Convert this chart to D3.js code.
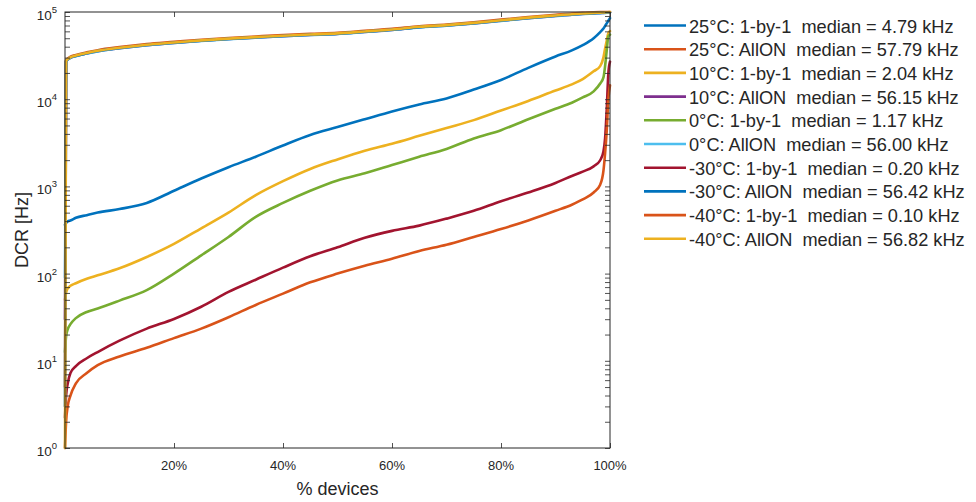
<!DOCTYPE html>
<html>
<head>
<meta charset="utf-8">
<script src="https://cdn.jsdelivr.net/npm/d3@7"></script>
<style>
  body { margin: 0; background: #fff; }
  svg text { font-family: "Liberation Sans", Arial, Helvetica, sans-serif; fill: #262626; }
</style>
</head>
<body>
<svg id="chart" width="976" height="502"></svg>
<script>
// Share of devices (%), sorted by dark count rate
const pct = [0, 0.2, 0.5, 1, 2, 4, 6, 10, 15, 20, 25, 30, 35, 40, 45, 50, 55, 60, 65, 70,
             75, 80, 85, 90, 93, 95, 97, 98.2, 98.8, 99.1, 99.4, 99.7, 100];

// DCR in Hz for each temperature / bias mode
const dcr25OneByOne = [363, 380, 398, 407, 437, 468, 501, 550, 646, 891, 1230, 1660, 2190, 2950, 3890, 4790,
  5890, 7240, 8710, 10200, 12900, 16600, 22900, 30900, 36300, 41700, 50100, 58900, 64600, 69200, 74100, 79400, 85100];
const dcr25AllOn = [5, 28010, 29330, 30710, 32160, 34450, 36500, 39560, 42890, 45430, 48120, 50390, 52400, 54370,
  56150, 57790, 60860, 64170, 68760, 71990, 76260, 81720, 87560, 92750, 96010, 97800, 99380, 99800, 99900, 99950, 99970, 99990, 100000];
const dcr10OneByOne = [50.1, 60.3, 67.6, 72.4, 77.6, 87.1, 95.5, 115, 155, 219, 331, 501, 794, 1148, 1585, 2040,
  2570, 3090, 3800, 4677, 5754, 7413, 9550, 12589, 14791, 16982, 20893, 23988, 30200, 38019, 46774, 57544, 60256];
const dcr10AllOn = [30, 27210, 28490, 29840, 31240, 33470, 35460, 38430, 41660, 44130, 46750, 48960, 50900, 52820,
  54550, 56150, 59120, 62340, 66800, 69940, 74090, 79390, 85070, 90110, 93280, 95010, 96550, 97240, 97670, 97890, 98120, 98350, 98570];
const dcr0OneByOne = [12.6, 19.1, 22.9, 26.3, 30.9, 36.3, 39.8, 49.0, 64.6, 100, 162, 263, 447, 646, 891, 1170,
  1413, 1758, 2188, 2692, 3548, 4416, 5888, 7762, 9120, 10471, 12303, 15136, 17783, 23988, 36308, 52481, 54954];
const dcr0AllOn = [90, 27140, 28420, 29770, 31160, 33390, 35370, 38340, 41560, 44030, 46640, 48840, 50780, 52690,
  54420, 56000, 58980, 62190, 66640, 69770, 73910, 79190, 84860, 89890, 93050, 94780, 96310, 97000, 97440, 97650, 97880, 98110, 98330];
const dcrM30OneByOne = [2.24, 3.98, 5.50, 7.24, 8.71, 10.7, 12.6, 17.0, 23.4, 30.2, 41.7, 61.7, 85.1, 117, 158, 200,
  257, 309, 355, 427, 525, 676, 851, 1096, 1318, 1479, 1698, 1995, 2512, 3548, 7586, 19953, 26915];
const dcrM30AllOn = [3, 27350, 28640, 29990, 31400, 33640, 35640, 38630, 41880, 44360, 46990, 49200, 51160, 53090,
  54820, 56420, 59420, 62660, 67140, 70290, 74470, 79790, 85500, 90560, 93750, 95490, 97040, 97730, 98170, 98390, 98620, 98840, 99070];
const dcrM40OneByOne = [1.0, 2.0, 3.02, 3.98, 5.50, 7.24, 8.91, 11.2, 14.1, 18.2, 23.4, 31.6, 43.7, 58.9, 79.4, 100,
  123, 148, 182, 214, 263, 324, 407, 525, 617, 708, 851, 1047, 1514, 2399, 4365, 10000, 14454];
const dcrM40AllOn = [1, 27540, 28840, 30200, 31620, 33880, 35890, 38900, 42170, 44670, 47320, 49550, 51520, 53460,
  55210, 56820, 59840, 63100, 67610, 70790, 74990, 80350, 86100, 91200, 94410, 96160, 97720, 98420, 98860, 99080, 99310, 99540, 99770];

const legendLabels = [
  "25°C: 1-by-1  median = 4.79 kHz",
  "25°C: AllON  median = 57.79 kHz",
  "10°C: 1-by-1  median = 2.04 kHz",
  "10°C: AllON  median = 56.15 kHz",
  "0°C: 1-by-1  median = 1.17 kHz",
  "0°C: AllON  median = 56.00 kHz",
  "-30°C: 1-by-1  median = 0.20 kHz",
  "-30°C: AllON  median = 56.42 kHz",
  "-40°C: 1-by-1  median = 0.10 kHz",
  "-40°C: AllON  median = 56.82 kHz"
];
const seriesValues = [dcr25OneByOne, dcr25AllOn, dcr10OneByOne, dcr10AllOn, dcr0OneByOne,
                      dcr0AllOn, dcrM30OneByOne, dcrM30AllOn, dcrM40OneByOne, dcrM40AllOn];
const colors = ["#0072BD", "#D95319", "#EDB120", "#7E2F8E", "#77AC30",
                "#4DBEEE", "#A2142F", "#0072BD", "#D95319", "#EDB120"];

const xTicks = [20, 40, 60, 80, 100];
const yMajor = [1, 10, 100, 1000, 10000, 100000];

const svg = d3.select("#chart");
const plotLeft = 65, plotRight = 610, plotTop = 12, plotBottom = 448;
const axisColor = "#262626";

const x = d3.scaleLinear().domain([0, 100]).range([plotLeft, plotRight]);
const y = d3.scaleLog().domain([1, 1e5]).range([plotBottom, plotTop]);

// curves
const line = d3.line()
  .x(d => x(d[0]))
  .y(d => y(d[1]))
  .curve(d3.curveMonotoneX);

const plot = svg.append("g");
seriesValues.forEach((vals, i) => {
  plot.append("path")
    .datum(pct.map((p, j) => [p, vals[j]]))
    .attr("d", line)
    .attr("fill", "none")
    .attr("stroke", colors[i])
    .attr("stroke-width", 2.6)
    .attr("stroke-linejoin", "round")
    .attr("stroke-linecap", "round");
});

// axes: ticks point inward on all four sides
const yTickVals = y.ticks();
const tick = 5;
function styleAxis(g) {
  g.select(".domain").remove();
  g.selectAll(".tick line").attr("stroke", axisColor).attr("stroke-width", 0.8);
  g.selectAll(".tick text").remove();
}
svg.append("g").attr("transform", `translate(0,${plotBottom})`)
  .call(d3.axisBottom(x).tickValues(xTicks).tickSize(-tick)).call(styleAxis);
svg.append("g").attr("transform", `translate(0,${plotTop})`)
  .call(d3.axisTop(x).tickValues(xTicks).tickSize(-tick)).call(styleAxis);
svg.append("g").attr("transform", `translate(${plotLeft},0)`)
  .call(d3.axisLeft(y).tickValues(yTickVals).tickSize(-tick)).call(styleAxis);
svg.append("g").attr("transform", `translate(${plotRight},0)`)
  .call(d3.axisRight(y).tickValues(yTickVals).tickSize(-tick)).call(styleAxis);

svg.append("rect")
  .attr("x", plotLeft).attr("y", plotTop)
  .attr("width", plotRight - plotLeft).attr("height", plotBottom - plotTop)
  .attr("fill", "none").attr("stroke", axisColor).attr("stroke-width", 1);

// x tick labels
svg.append("g").selectAll("text").data(xTicks).join("text")
  .attr("x", d => x(d)).attr("y", plotBottom + 22)
  .attr("text-anchor", "middle").attr("font-size", 13)
  .text(d => d + "%");

// y tick labels as powers of ten
const yl = svg.append("g").selectAll("text").data(yMajor).join("text")
  .attr("x", 57).attr("y", d => y(d) + 8)
  .attr("text-anchor", "end").attr("font-size", 13.5);
yl.append("tspan").text("10");
yl.append("tspan").attr("dy", -7).attr("font-size", 9.5).text(d => Math.round(Math.log10(d)));

// axis titles
svg.append("text")
  .attr("x", (plotLeft + plotRight) / 2).attr("y", 495)
  .attr("text-anchor", "middle").attr("font-size", 18)
  .text("% devices");
svg.append("text")
  .attr("transform", `translate(28,${(plotTop + plotBottom) / 2}) rotate(-90)`)
  .attr("text-anchor", "middle").attr("font-size", 18)
  .text("DCR [Hz]");

// legend
const legend = svg.append("g");
legendLabels.forEach((label, i) => {
  const ly = 25.5 + i * 23.7;
  legend.append("line")
    .attr("x1", 644).attr("x2", 686).attr("y1", ly).attr("y2", ly)
    .attr("stroke", colors[i]).attr("stroke-width", 2.6);
  legend.append("text")
    .attr("x", 689).attr("y", ly + 7)
    .attr("font-size", 18.2)
    .style("white-space", "pre")
    .text(label);
});
</script>
</body>
</html>
